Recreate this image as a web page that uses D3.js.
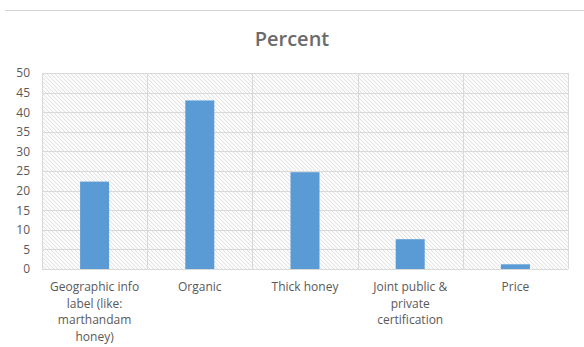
<!DOCTYPE html>
<html>
<head>
<meta charset="utf-8">
<script src="https://cdn.jsdelivr.net/npm/d3@7"></script>
<style>
  html, body { margin: 0; padding: 0; background: #fff; }
  svg { display: block; font-family: "Open Sans", "Noto Sans", sans-serif; }
</style>
</head>
<body>
<svg id="chart" width="584" height="347"></svg>
<script>
// Survey responses: preferred honey label attribute (percent of respondents)
const categories = [
  ["Geographic info", "label (like:", "marthandam", "honey)"],
  ["Organic"],
  ["Thick honey"],
  ["Joint public &", "private", "certification"],
  ["Price"]
];
const values = [22.3, 43.0, 24.7, 7.6, 1.2];
const yTicks = [0, 5, 10, 15, 20, 25, 30, 35, 40, 45, 50];
const title = "Percent";

const svg = d3.select("#chart");
const margin = { left: 42, right: 16, top: 73, bottom: 78 };
const W = 584, H = 347;
const plotW = W - margin.left - margin.right;
const plotH = H - margin.top - margin.bottom;

const x = d3.scaleBand().domain(d3.range(categories.length)).range([0, plotW]).paddingInner(0).paddingOuter(0);
const y = d3.scaleLinear().domain([0, 50]).range([plotH, 0]);

// thin rule across the top of the sheet
svg.append("line").attr("x1", 5).attr("x2", W).attr("y1", 10.5).attr("y2", 10.5)
  .attr("stroke", "#d4d4d4").attr("stroke-width", 1);

// diagonal hatch fill for the plot area
const defs = svg.append("defs");
const pat = defs.append("pattern").attr("id", "hatch").attr("patternUnits", "userSpaceOnUse")
  .attr("width", 4).attr("height", 4);
pat.append("rect").attr("width", 4).attr("height", 4).attr("fill", "#fbfbfb");
pat.append("path").attr("d", "M-1,-1 L5,5 M-1,3 L1,5 M3,-1 L5,1")
  .attr("stroke", "#dcdcdc").attr("stroke-width", 0.8);

svg.append("text").attr("x", W / 2).attr("y", 46).attr("text-anchor", "middle")
  .attr("font-size", 20).attr("font-weight", 600).attr("fill", "#6b6b6b").text(title);

const g = svg.append("g").attr("transform", `translate(${margin.left},${margin.top})`);

g.append("rect").attr("width", plotW).attr("height", plotH).attr("fill", "url(#hatch)");

// horizontal gridlines
g.append("g").selectAll("line").data(yTicks).join("line")
  .attr("x1", 0).attr("x2", plotW)
  .attr("y1", d => Math.round(y(d)) + 0.5).attr("y2", d => Math.round(y(d)) + 0.5)
  .attr("stroke", "#d9d9d9").attr("stroke-width", 1);

// vertical category dividers
const bounds = d3.range(categories.length + 1).map(i => i < categories.length ? x(i) : plotW);
g.append("g").selectAll("line").data(bounds).join("line")
  .attr("x1", d => Math.round(d) + 0.5).attr("x2", d => Math.round(d) + 0.5)
  .attr("y1", 0).attr("y2", plotH)
  .attr("stroke", "#d9d9d9").attr("stroke-width", 1);

// bars
const barW = 29;
g.append("g").selectAll("rect").data(values).join("rect")
  .attr("x", (d, i) => x(i) + x.bandwidth() / 2 - barW / 2)
  .attr("width", barW)
  .attr("y", d => y(d))
  .attr("height", d => y(0) - y(d))
  .attr("fill", "#5b9bd5");

// y axis labels
const yAxis = d3.axisLeft(y).tickValues(yTicks).tickSize(0).tickPadding(12);
const ya = g.append("g").call(yAxis);
ya.select(".domain").remove();
ya.selectAll("text").attr("font-size", 12).attr("fill", "#595959")
  .attr("font-family", "'Open Sans', 'Noto Sans', sans-serif");

// category labels
const xl = g.append("g").selectAll("text").data(categories).join("text")
  .attr("text-anchor", "middle")
  .attr("font-size", 12).attr("fill", "#595959")
  .attr("transform", (d, i) => `translate(${x(i) + x.bandwidth() / 2},${plotH + 22})`);
xl.selectAll("tspan").data(d => d).join("tspan")
  .attr("x", 0).attr("dy", (d, i) => i === 0 ? 0 : 16.7).text(d => d);
</script>
</body>
</html>
